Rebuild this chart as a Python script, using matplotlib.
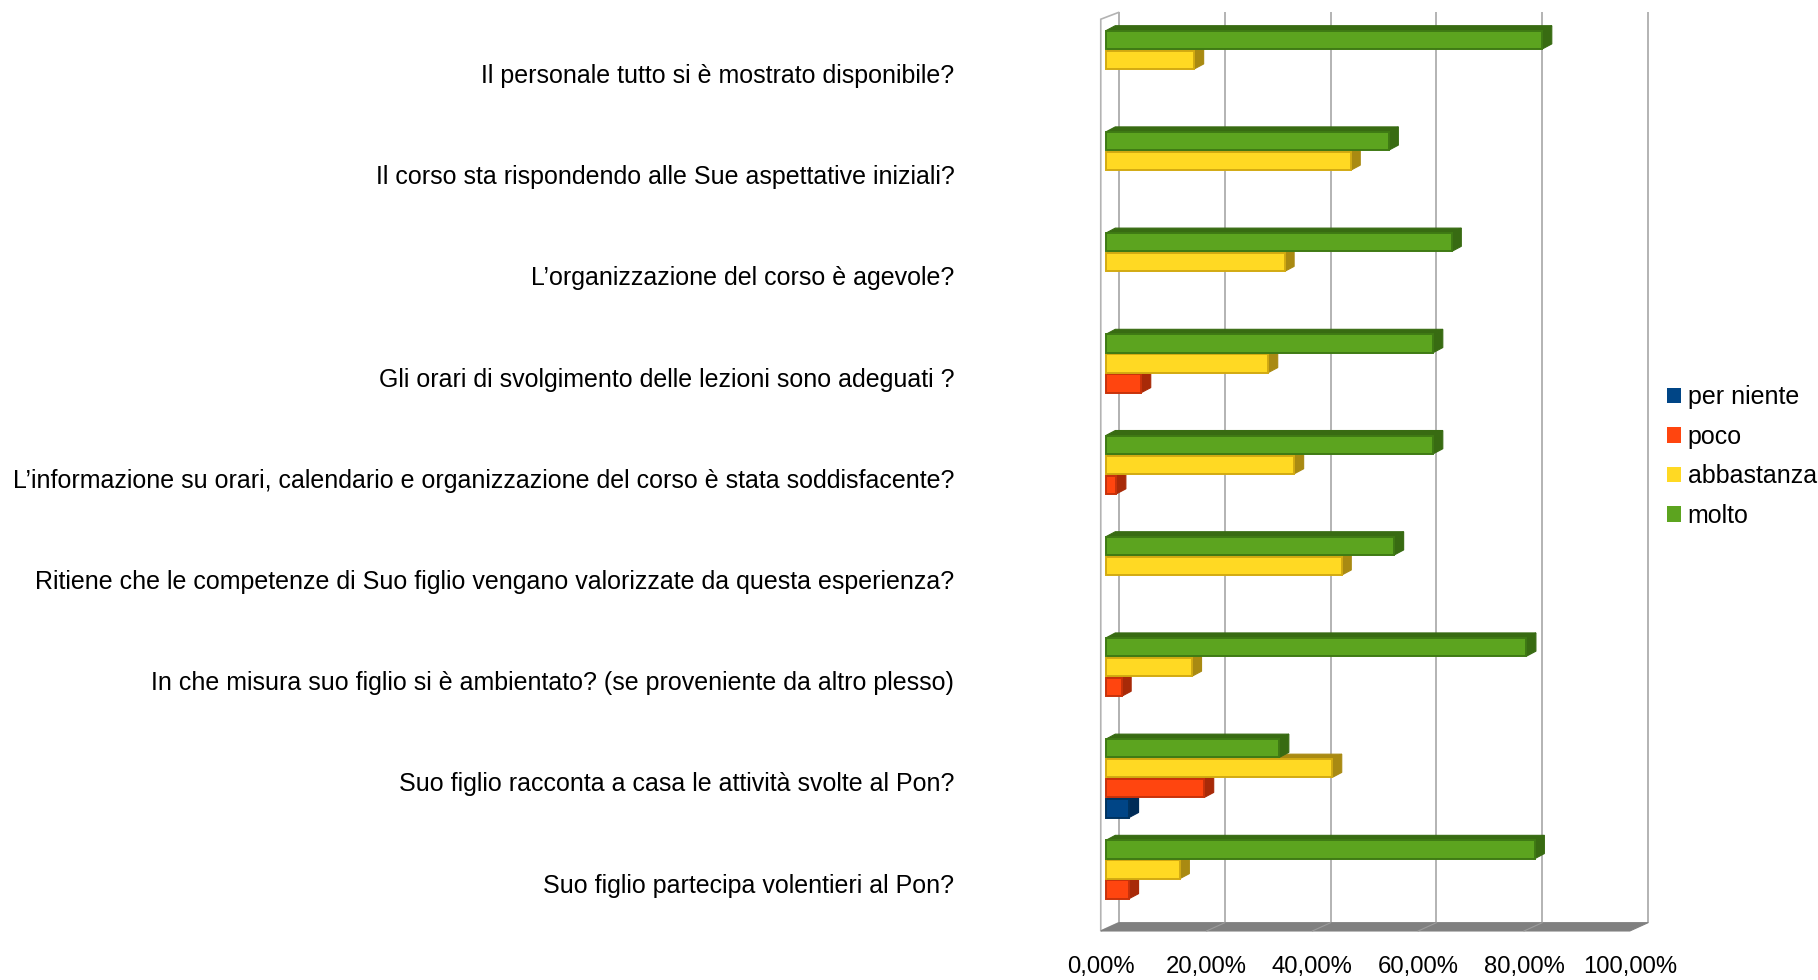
"""Questionario Pon: grafico a barre orizzontali con effetto 3D (stile LibreOffice)."""

from __future__ import annotations

import matplotlib

matplotlib.use("Agg")

import matplotlib.pyplot as plt
from matplotlib.patches import Patch, Polygon

# --- dati ------------------------------------------------------------------
domande = [
    "Il personale tutto si è mostrato disponibile?",
    "Il corso sta rispondendo alle Sue aspettative iniziali?",
    "L’organizzazione del corso è agevole?",
    "Gli orari di svolgimento delle lezioni sono adeguati ?",
    "L’informazione su orari, calendario e organizzazione del corso è stata soddisfacente?",
    "Ritiene che le competenze di Suo figlio vengano valorizzate da questa esperienza?",
    "In che misura suo figlio si è ambientato? (se proveniente da altro plesso)",
    "Suo figlio racconta a casa le attività svolte al Pon?",
    "Suo figlio partecipa volentieri al Pon?",
]
molto = [82.5, 53.5, 65.4, 61.9, 61.9, 54.5, 79.5, 32.8, 81.1]
abbastanza = [16.7, 46.3, 33.8, 30.7, 35.6, 44.6, 16.3, 42.8, 14.0]
poco = [0.0, 0.0, 0.0, 6.7, 2.0, 0.0, 3.0, 18.6, 4.4]
per_niente = [0.0, 0.0, 0.0, 0.0, 0.0, 0.0, 0.0, 4.4, 0.0]
x_ticks = [0, 20, 40, 60, 80, 100]

# serie dall'alto verso il basso all'interno di ogni gruppo
serie = [
    ("molto", molto, "#5ca41f", "#3f7a14", "#386b12"),
    ("abbastanza", abbastanza, "#ffd923", "#d2aa12", "#a98a12"),
    ("poco", poco, "#ff450f", "#c8320a", "#a82a08"),
    ("per niente", per_niente, "#004586", "#00335f", "#002b57"),
]

# --- geometria (unità dati: % in x, indice domanda in y) -------------------
SLOT = 0.198        # passo tra le barre di un gruppo
BAR_H = 0.18        # altezza faccia frontale
DX, DY = 1.8, 0.05  # profondità delle barre
WALL_X0 = 2.51      # zero sulla parete di fondo
FLOOR_X0 = -0.945   # zero sul bordo anteriore del pavimento
FLOOR_Y_FRONT, FLOOR_Y_BACK = 8.508, 8.426
TOP_Y_FRONT, TOP_Y_BACK = -0.501, -0.570
LABEL_DY = 0.035    # le etichette stanno un filo sotto il centro del gruppo
GRID = "#b3b3b3"

plt.rcParams["font.family"] = ["Liberation Sans", "DejaVu Sans"]
FS_TICK = 17.2
FS_TEXT = 18

fig = plt.figure(figsize=(18.18, 9.80), dpi=100)
ax = fig.add_axes((0.5995, 0.04878, 0.3114, 0.9439))
ax.set_xlim(-3, 104)
ax.set_ylim(8.52, -0.62)
for spine in ax.spines.values():
    spine.set_visible(False)

# parete sinistra e pavimento
ax.add_patch(Polygon(
    [(FLOOR_X0, FLOOR_Y_FRONT), (FLOOR_X0, TOP_Y_FRONT),
     (WALL_X0, TOP_Y_BACK), (WALL_X0, FLOOR_Y_BACK)],
    closed=True, facecolor="white", edgecolor=GRID, lw=1.2, zorder=1))
ax.add_patch(Polygon(
    [(FLOOR_X0, FLOOR_Y_FRONT), (WALL_X0, FLOOR_Y_BACK),
     (100 + WALL_X0, FLOOR_Y_BACK), (100 + FLOOR_X0, FLOOR_Y_FRONT)],
    closed=True, facecolor="#808080", edgecolor="#808080", lw=0.8, zorder=2))

# griglia sulla parete di fondo + prosecuzione sul pavimento
back = [t + WALL_X0 for t in x_ticks]
ax.vlines(back, TOP_Y_BACK, FLOOR_Y_BACK, colors=GRID, lw=1.4, zorder=1.5)
for t in x_ticks[1:-1]:
    ax.plot([t + WALL_X0, t + FLOOR_X0], [FLOOR_Y_BACK, FLOOR_Y_FRONT],
            color="#9c9c9c", lw=0.8, zorder=2.5)

# barre: prima quelle in basso, così la barra sopra copre la faccia superiore
z = 3.0
for i in range(len(domande)):
    for slot in range(len(serie) - 1, -1, -1):
        _, vals, front, edge, dark = serie[slot]
        v = vals[i]
        if v <= 0:
            continue
        y = i + (slot - 1.5) * SLOT
        top, bot = y - BAR_H / 2, y + BAR_H / 2
        ax.add_patch(Polygon(
            [(0, top), (DX, top - DY), (v + DX, top - DY), (v, top)],
            closed=True, facecolor=dark, edgecolor=dark, lw=0.8, zorder=z))
        ax.add_patch(Polygon(
            [(v, top), (v + DX, top - DY), (v + DX, bot - DY), (v, bot)],
            closed=True, facecolor=dark, edgecolor=dark, lw=0.8, zorder=z))
        ax.barh(y, v, height=BAR_H, left=0, color=front, edgecolor=edge,
                linewidth=1.4, zorder=z + 0.1)
        z += 0.2

# assi
ax.set_yticks([i + LABEL_DY for i in range(len(domande))])
ax.set_yticklabels(domande, fontsize=FS_TEXT)
ax.set_xticks([t + FLOOR_X0 for t in x_ticks])
ax.set_xticklabels([f"{t},00%" for t in x_ticks], fontsize=FS_TICK)
ax.tick_params(axis="y", length=0, pad=97.6)
ax.tick_params(axis="x", length=0, pad=16.9)

# legenda
handles = [Patch(facecolor=s[2], edgecolor="none", label=s[0]) for s in reversed(serie)]
fig.legend(handles=handles, loc="center left", bbox_to_anchor=(0.9168, 0.5340),
           frameon=False, fontsize=FS_TEXT, borderpad=0, borderaxespad=0,
           handlelength=0.58, handleheight=0.58, handletextpad=0.26,
           labelspacing=0.62)

fig.savefig("out.png", dpi=100)
plt.close(fig)
